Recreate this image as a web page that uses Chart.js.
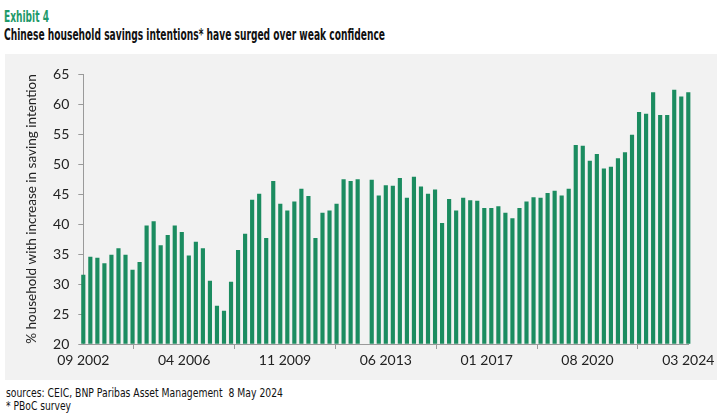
<!DOCTYPE html>
<html>
<head>
<meta charset="utf-8">
<script src="https://cdn.jsdelivr.net/npm/chart.js@4.4.1/dist/chart.umd.min.js"></script>
<style>
  html,body{margin:0;padding:0;background:#fff;width:725px;height:415px;overflow:hidden;}
  #panel{position:absolute;left:5px;top:54px;width:712px;height:326px;background:#f2f2f2;}
  #wrap{position:absolute;left:0;top:0;width:725px;height:415px;}
  .txt{position:absolute;white-space:nowrap;transform-origin:0 50%;font-family:"Liberation Sans Narrow","DejaVu Sans Condensed","Liberation Sans",sans-serif;}
  .hd{font-family:"DejaVu Sans Condensed","Liberation Sans Narrow",sans-serif;}
  #ex{left:4px;top:7px;font-size:16px;font-weight:bold;color:#1f9a6a;}
  #ttl{left:4px;top:25px;font-size:16.5px;font-weight:bold;color:#111;}
  #src{left:6px;top:385px;font-size:12.5px;color:#111;}
  #note{left:6px;top:398px;font-size:12.5px;color:#111;}
</style>
</head>
<body>
<div id="panel"></div>
<div id="ex" class="txt hd" data-w="45">Exhibit 4</div>
<div id="ttl" class="txt hd" data-w="381">Chinese household savings intentions* have surged over weak confidence</div>
<div id="src" class="txt" data-w="277">sources: CEIC, BNP Paribas Asset Management&nbsp; 8 May 2024</div>
<div id="note" class="txt" data-w="65">* PBoC survey</div>
<div id="wrap"><canvas id="c"></canvas></div>
<script>
// ---- data ----
const quarters = [
 "2002-09","2002-12",
 "2003-03","2003-06","2003-09","2003-12",
 "2004-03","2004-06","2004-09","2004-12",
 "2005-03","2005-06","2005-09","2005-12",
 "2006-03","2006-06","2006-09","2006-12",
 "2007-03","2007-06","2007-09","2007-12",
 "2008-03","2008-06","2008-09","2008-12",
 "2009-03","2009-06","2009-09","2009-12",
 "2010-03","2010-06","2010-09","2010-12",
 "2011-03","2011-06","2011-09","2011-12",
 "2012-03","2012-06","2012-09","2012-12",
 "2013-03","2013-06","2013-09","2013-12",
 "2014-03","2014-06","2014-09","2014-12",
 "2015-03","2015-06","2015-09","2015-12",
 "2016-03","2016-06","2016-09","2016-12",
 "2017-03","2017-06","2017-09","2017-12",
 "2018-03","2018-06","2018-09","2018-12",
 "2019-03","2019-06","2019-09","2019-12",
 "2020-03","2020-06","2020-09","2020-12",
 "2021-03","2021-06","2021-09","2021-12",
 "2022-03","2022-06","2022-09","2022-12",
 "2023-03","2023-06","2023-09","2023-12",
 "2024-03"
];
const savingIntention = [
 31.5,34.5,
 34.3,33.4,34.8,35.9,
 34.8,32.3,33.6,39.7,
 40.4,36.4,38.1,39.7,
 38.6,34.7,37.0,35.9,
 30.5,26.3,25.5,30.3,
 35.6,38.3,44.0,45.0,
 37.6,47.1,43.3,42.2,
 43.7,45.8,44.6,37.6,
 41.8,42.2,43.3,47.4,
 47.1,47.4,null,47.3,
 44.7,46.4,46.3,47.6,
 44.3,47.8,46.2,45.0,
 45.7,40.1,44.1,42.2,
 44.3,43.9,43.8,42.6,
 42.6,42.9,41.8,40.9,
 42.6,43.7,44.4,44.3,
 45.1,45.5,44.7,45.8,
 53.1,53.0,50.5,51.6,
 49.2,49.5,50.9,51.9,
 54.8,58.6,58.3,61.9,
 58.1,58.1,62.3,61.2,
 61.9
];
const xTickDates = ["2002-09","2006-04","2009-11","2013-06","2017-01","2020-08","2024-03"];
const xTickLabels = ["09 2002","04 2006","11 2009","06 2013","01 2017","08 2020","03 2024"];
const yTicks = [20,25,30,35,40,45,50,55,60,65];

// month index relative to the first category
function monthIndex(s){const [y,m]=s.split("-").map(Number);return (y-2002)*12+(m-9);}
const points = quarters.map((q,i)=>({x:monthIndex(q),y:savingIntention[i]}));
const tickPos = xTickDates.map(monthIndex);

// fit header/footer text widths
document.querySelectorAll('.txt').forEach(el=>{
  const w=el.getBoundingClientRect().width, t=+el.dataset.w;
  if(w>0) el.style.transform='scaleX('+(t/w)+')';
});

const tickFont = {family:"Lato, 'Open Sans', sans-serif", size:14};
new Chart(document.getElementById('c'),{
  type:'bar',
  data:{datasets:[{
    data:points,
    backgroundColor:'#1b8c60',
    barThickness:3.5,
    base:20,
    clip:{left:4,right:4,top:0,bottom:0}
  }]},
  options:{
    responsive:true,maintainAspectRatio:false,animation:false,
    layout:{padding:{top:74,right:36.7,bottom:40,left:0}},
    plugins:{legend:{display:false},tooltip:{enabled:false}},
    scales:{
      x:{
        type:'linear',offset:false,
        min:tickPos[0],max:tickPos[tickPos.length-1],
        afterBuildTicks:s=>{s.ticks=tickPos.map(v=>({value:v}));},
        afterFit:s=>{s.height=31;},
        ticks:{autoSkip:false,maxRotation:0,padding:3,color:'#222',font:tickFont,
          callback:(v)=>xTickLabels[tickPos.indexOf(v)]},
        grid:{drawOnChartArea:false,drawTicks:true,tickLength:5,color:'#9a9a9a'},
        border:{display:true,color:'#9a9a9a'}
      },
      y:{
        min:20,max:65,
        afterBuildTicks:s=>{s.ticks=yTicks.map(v=>({value:v}));},
        afterFit:s=>{s.width=83.3;},
        ticks:{padding:9,color:'#222',font:tickFont},
        grid:{drawOnChartArea:false,drawTicks:true,tickLength:5,color:'#9a9a9a'},
        border:{display:true,color:'#9a9a9a'},
        title:{display:true,text:'% household with increase in saving intention',
          color:'#222',font:{family:"Lato, 'Open Sans', sans-serif",size:13.5},padding:{top:24,bottom:0}}
      }
    }
  }
});
</script>
</body>
</html>
